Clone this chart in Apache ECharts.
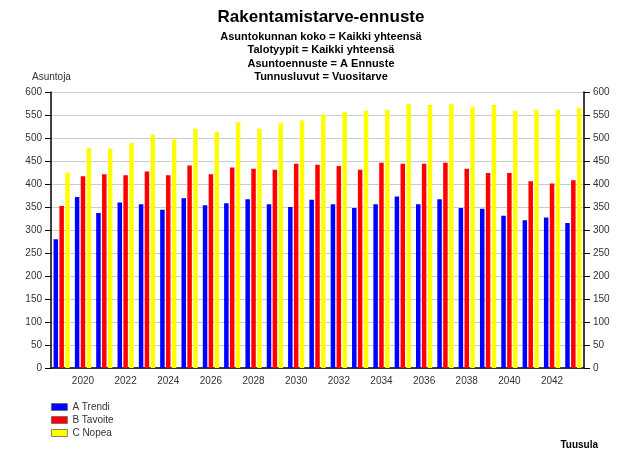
<!DOCTYPE html>
<html>
<head>
<meta charset="utf-8">
<script src="https://cdn.jsdelivr.net/npm/echarts@6/dist/echarts.min.js"></script>
<style>html,body{margin:0;padding:0;background:#fff;}#c{width:617px;height:453px;}</style>
</head>
<body>
<div id="c"></div>
<script>
const years = ['2019','2020','2021','2022','2023','2024','2025','2026','2027','2028','2029','2030','2031','2032','2033','2034','2035','2036','2037','2038','2039','2040','2041','2042','2043'];
const trendi = [280,372,337,360,356,344,369,354,358,367,356,350,366,356,348,356,373,356,367,348,346,331,321,327,315];
const tavoite = [352,417,421,419,427,419,440,421,436,433,431,444,442,439,431,446,444,444,446,433,424,424,406,401,408];
const nopea = [425,478,477,489,507,497,520,513,534,520,532,538,551,556,559,561,574,572,574,567,572,559,561,561,566];
const seriesNames = ['A Trendi','B Tavoite','C Nopea'];
const yTicks = {min:0, max:600, interval:50};

const FONT = '"Liberation Sans", Arial, sans-serif';
const chart = echarts.init(document.getElementById('c'), null, {renderer:'canvas'});
const yAxisBase = {
  type:'value', min:yTicks.min, max:yTicks.max, interval:yTicks.interval,
  axisLine:{show:true, lineStyle:{color:'#000', width:1.5}},
  axisTick:{show:true, length:6, lineStyle:{color:'#000'}},
  axisLabel:{fontSize:10, color:'#333', fontFamily:FONT, margin:9},
};
chart.setOption({
  animation:false,
  backgroundColor:'#fff',
  title:[
    {text:'Rakentamistarve-ennuste', left:316, textAlign:'center', top:4,
     textStyle:{fontSize:17, fontWeight:'bold', color:'#000', fontFamily:FONT}},
    {text:'Asuntokunnan koko = Kaikki yhteensä\nTalotyypit = Kaikki yhteensä\nAsuntoennuste = A Ennuste\nTunnusluvut = Vuositarve',
     left:316, textAlign:'center', top:25,
     textStyle:{fontSize:11, fontWeight:'bold', color:'#000', fontFamily:FONT, lineHeight:13.5}},
    {text:'Tuusula', right:14, top:435,
     textStyle:{fontSize:10, fontWeight:'bold', color:'#000', fontFamily:FONT}}
  ],
  legend:{
    orient:'vertical', left:51, top:402, padding:0, itemWidth:16, itemHeight:7, itemGap:3,
    icon:'rect',
    textStyle:{fontSize:10, color:'#333', fontFamily:FONT, lineHeight:8},
    itemStyle:{borderColor:'#666', borderWidth:0.8},
    data:seriesNames
  },
  grid:{left:51, right:33, top:92, bottom:85},
  xAxis:{
    type:'category', data:years, boundaryGap:true,
    axisLine:{lineStyle:{color:'#000', width:1.5}},
    axisTick:{alignWithLabel:true, interval:0, length:6, lineStyle:{color:'#000'}},
    axisLabel:{interval:function(i){return i%2===1;}, fontSize:10, color:'#333', fontFamily:FONT, margin:8},
    splitLine:{show:false}
  },
  yAxis:[
    Object.assign({}, yAxisBase, {position:'left', name:'Asuntoja', nameLocation:'end', nameGap:10,
      nameTextStyle:{fontSize:10, color:'#333', fontFamily:FONT, align:'left', padding:[0,0,0,-19]},
      splitLine:{show:true, lineStyle:{color:'#ccc', width:1}}}),
    Object.assign({}, yAxisBase, {position:'right', splitLine:{show:false}})
  ],
  series:[
    {name:seriesNames[0], type:'bar', data:trendi, barWidth:4.5, barGap:'30%', itemStyle:{color:'#0000ff'}},
    {name:seriesNames[1], type:'bar', data:tavoite, barWidth:4.5, barGap:'30%', itemStyle:{color:'#ff0000'}},
    {name:seriesNames[2], type:'bar', data:nopea, barWidth:4.5, barGap:'30%', itemStyle:{color:'#ffff00'}}
  ]
});
</script>
</body>
</html>
